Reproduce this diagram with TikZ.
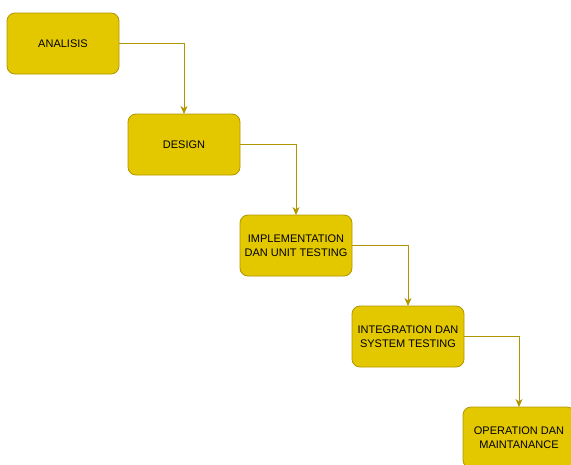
\documentclass[tikz,border=0pt]{standalone}
\usepackage{fontspec}
\setmainfont{Liberation Sans}
\usetikzlibrary{arrows.meta}
\usetikzlibrary{positioning}
\definecolor{stepfill}{HTML}{E3C800}
\definecolor{stepline}{HTML}{B09500}

\begin{document}
\begin{tikzpicture}
  [x=1pt,y=1pt,->,>={Stealth[length=8pt,width=7pt,inset=2.5pt]},node distance=40pt and 0pt,
   main node/.style={rectangle,rounded corners=8pt,fill=stepfill,draw=stepline,line width=0.8pt,minimum width=112pt,minimum height=61pt,align=center,outer sep=0pt,font=\fontsize{11}{14.5}\selectfont},
   elbow/.style={draw=stepline,fill=none,line width=0.9pt,to path={-| (\tikztotarget)}}]
  \useasboundingbox (0,0) rectangle (571,-464);
  \node[main node] (Analisis) at (63,-43.5) {ANALISIS};
  \node[main node] (Design) [below right=40pt and 9pt of Analisis] {DESIGN};
  \node[main node] (Implementation) [below right=40pt and 0pt of Design] {IMPLEMENTATION\\DAN UNIT TESTING};
  \node[main node] (Integration) [below right=30pt and 0pt of Implementation] {INTEGRATION DAN\\SYSTEM TESTING};
  \node[main node] (Operation) [below right=40pt and -1pt of Integration] {OPERATION DAN\\MAINTANANCE};

  \path
    (Analisis.east)       edge [elbow] (Design.north)
    (Design.east)         edge [elbow] (Implementation.north)
    (Implementation.east) edge [elbow] (Integration.north)
    (Integration.east)    edge [elbow] (Operation.north)
    ;

\end{tikzpicture}
\end{document}
